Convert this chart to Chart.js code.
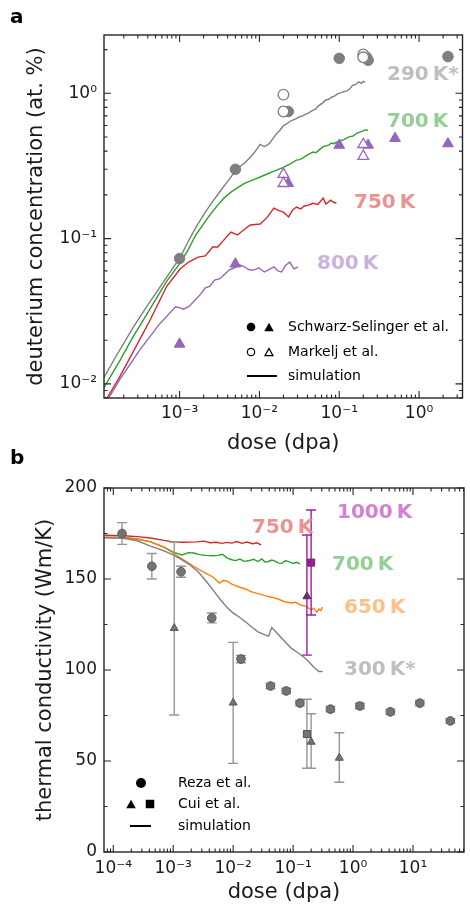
<!DOCTYPE html>
<html>
<head>
<meta charset="utf-8">
<script src="https://cdn.jsdelivr.net/npm/chart.js@4.4.1/dist/chart.umd.min.js"></script>
<style>
  body { margin: 0; background: #fff; width: 470px; height: 905px; position: relative; overflow: hidden; }
  canvas { position: absolute; left: 0; }
  #chartA { top: 0; }
  #chartB { top: 460px; }
  .panel { position: absolute; left: 10px; font: bold 20px "DejaVu Sans"; line-height: 20px; color: #000; }
</style>
</head>
<body>
<canvas id="chartA" width="470" height="460"></canvas>
<canvas id="chartB" width="470" height="445"></canvas>
<div class="panel" style="top:6px">a</div>
<div class="panel" style="top:447px">b</div>
<script>
const FONT = '"DejaVu Sans"'
Chart.defaults.font.family = FONT
Chart.defaults.color = '#1a1a1a'

// ---------- panel a : deuterium concentration (at. %) vs dose (dpa) ----------
// simulation curves
const aDose290 = [1.1e-4, 1.6e-4, 2.6e-4, 4.0e-4, 6.7e-4, 1.02e-3, 1.3e-3, 1.58e-3, 2.1e-3, 2.5e-3, 3.2e-3, 4.0e-3, 5.3e-3, 6.5e-3, 8.1e-3, 9.2e-3, 0.0102, 0.0115, 0.0125, 0.0135, 0.016, 0.018, 0.02, 0.022, 0.024, 0.027, 0.029, 0.032, 0.035, 0.038, 0.041, 0.047, 0.051, 0.055, 0.062, 0.068, 0.074, 0.08, 0.088, 0.095, 0.11, 0.125, 0.135, 0.146, 0.16, 0.175, 0.19, 0.2, 0.211]
const aConc290 = [0.0108, 0.0155, 0.0243, 0.035, 0.053, 0.0746, 0.097, 0.118, 0.152, 0.175, 0.211, 0.248, 0.305, 0.33, 0.375, 0.41, 0.445, 0.43, 0.44, 0.455, 0.52, 0.555, 0.60, 0.615, 0.64, 0.66, 0.67, 0.69, 0.70, 0.72, 0.73, 0.765, 0.78, 0.82, 0.86, 0.90, 0.91, 0.94, 0.96, 0.99, 1.02, 1.04, 1.07, 1.13, 1.15, 1.2, 1.17, 1.21, 1.19]

const aDose700 = [1.1e-4, 1.8e-4, 2.6e-4, 4.0e-4, 6.9e-4, 1.02e-3, 1.3e-3, 1.58e-3, 2.3e-3, 3.0e-3, 3.6e-3, 4.4e-3, 5.4e-3, 6.5e-3, 8.5e-3, 0.0115, 0.015, 0.02, 0.022, 0.024, 0.029, 0.032, 0.035, 0.041, 0.047, 0.051, 0.055, 0.063, 0.074, 0.08, 0.085, 0.1, 0.115, 0.13, 0.15, 0.17, 0.19, 0.21, 0.23]
const aConc700 = [0.0092, 0.0146, 0.021, 0.031, 0.051, 0.068, 0.085, 0.105, 0.141, 0.17, 0.19, 0.209, 0.225, 0.24, 0.255, 0.273, 0.29, 0.309, 0.318, 0.325, 0.347, 0.35, 0.36, 0.38, 0.394, 0.39, 0.405, 0.43, 0.44, 0.455, 0.45, 0.47, 0.48, 0.50, 0.51, 0.535, 0.545, 0.56, 0.557]

const aDose750 = [1.13e-4, 1.7e-4, 2.57e-4, 4.2e-4, 6.9e-4, 1.02e-3, 1.3e-3, 1.71e-3, 2.1e-3, 2.6e-3, 3.0e-3, 3.6e-3, 4.4e-3, 5.3e-3, 6.4e-3, 7.7e-3, 0.0102, 0.0125, 0.0152, 0.0175, 0.020, 0.0232, 0.026, 0.029, 0.033, 0.036, 0.041, 0.047, 0.054, 0.063, 0.068, 0.078, 0.085, 0.092]
const aConc750 = [0.0074, 0.0107, 0.0163, 0.027, 0.047, 0.062, 0.069, 0.0746, 0.076, 0.0875, 0.0875, 0.098, 0.111, 0.106, 0.115, 0.124, 0.126, 0.14, 0.162, 0.156, 0.152, 0.141, 0.157, 0.165, 0.16, 0.167, 0.17, 0.175, 0.172, 0.19, 0.173, 0.184, 0.178, 0.176]

const aDose800 = [1.13e-4, 1.26e-4, 1.78e-4, 3.16e-4, 5.5e-4, 8.9e-4, 1.0e-3, 1.12e-3, 1.3e-3, 1.58e-3, 1.8e-3, 2.09e-3, 2.4e-3, 2.75e-3, 3.2e-3, 3.7e-3, 4.2e-3, 4.9e-3, 5.6e-3, 6.5e-3, 7.4e-3, 8.5e-3, 9.8e-3, 0.0115, 0.013, 0.0152, 0.017, 0.019, 0.021, 0.024, 0.027, 0.0305]
const aConc800 = [0.0071, 0.0078, 0.0107, 0.0171, 0.0255, 0.0339, 0.0335, 0.0327, 0.034, 0.038, 0.041, 0.0457, 0.047, 0.0519, 0.053, 0.057, 0.061, 0.063, 0.066, 0.064, 0.061, 0.0607, 0.063, 0.0589, 0.061, 0.064, 0.06, 0.0589, 0.065, 0.069, 0.062, 0.064]

// experiments
const ssDose290 = [1e-3, 5e-3, 0.023, 0.1, 0.22, 0.23, 2.3]
const ssConc290 = [0.073, 0.3, 0.75, 1.74, 1.77, 1.69, 1.79]
const mkDose290 = [0.02, 0.02, 0.2, 0.2]
const mkConc290 = [0.98, 0.75, 1.85, 1.77]
const ssDoseHot = [1e-3, 5e-3, 0.023, 0.1, 0.23, 0.5, 2.3]
const ssConcHot = [0.0188, 0.067, 0.24, 0.44, 0.44, 0.49, 0.45]
const mkDoseHot = [0.02, 0.02, 0.2, 0.2]
const mkConcHot = [0.277, 0.24, 0.445, 0.369]

const aXLabels = [1e-3, 1e-2, 1e-1, 1]
const aYLabels = [1e-2, 1e-1, 1]

// ---------- panel b : thermal conductivity (Wm/K) vs dose (dpa) ----------
const bDose750 = [7.2e-5, 1.5e-4, 2.5e-4, 4.2e-4, 7e-4, 1e-3, 1.5e-3, 2.45e-3, 3.3e-3, 4.1e-3, 5.2e-3, 6.5e-3, 7.8e-3, 9.5e-3, 0.0115, 0.014, 0.017, 0.021, 0.025, 0.029]
const bTC750 = [174.0, 173.8, 173.3, 172.5, 171.2, 170.3, 170.2, 170.4, 170.8, 169.9, 170.2, 169.6, 170.1, 169.7, 170.6, 169.6, 170.3, 169.4, 169.9, 168.7]

const bDose700 = [7.2e-5, 1.5e-4, 2.5e-4, 4.2e-4, 7e-4, 1e-3, 1.2e-3, 1.4e-3, 1.8e-3, 2.2e-3, 2.75e-3, 3.5e-3, 4.6e-3, 5.6e-3, 6.6e-3, 8e-3, 9.5e-3, 0.011, 0.013, 0.015, 0.018, 0.022, 0.026, 0.03, 0.034, 0.038, 0.044, 0.05, 0.057, 0.065, 0.074, 0.083, 0.1, 0.115, 0.13]
const bTC700 = [172.8, 172.8, 172.0, 170.4, 167.5, 164.8, 163.9, 163.2, 164.5, 164.3, 163.4, 163.0, 162.8, 163.0, 163.6, 161.5, 160.6, 160.1, 161.0, 159.7, 160.0, 160.8, 159.6, 161.0, 159.3, 159.5, 160.4, 159.8, 158.7, 158.6, 160.0, 159.7, 158.5, 159.2, 158.3]

const bDose650 = [7.2e-5, 1.5e-4, 2.5e-4, 4.2e-4, 7e-4, 1e-3, 1.3e-3, 1.7e-3, 2.2e-3, 2.75e-3, 3.6e-3, 4.6e-3, 5.9e-3, 6.8e-3, 7.8e-3, 0.0095, 0.0126, 0.016, 0.0204, 0.026, 0.0347, 0.044, 0.056, 0.072, 0.093, 0.11, 0.135, 0.165, 0.2, 0.22, 0.25, 0.27, 0.29, 0.31]
const bTC650 = [172.8, 172.8, 172.0, 170.4, 167.5, 164.3, 161.8, 159.3, 157.0, 155.0, 153.0, 151.1, 147.8, 149.2, 148.9, 147.2, 145.6, 144.5, 142.9, 142.0, 140.7, 140.0, 139.0, 137.5, 136.8, 137.2, 135.7, 135.0, 133.0, 134.0, 131.8, 133.5, 132.6, 134.6]

const bDose300 = [7.2e-5, 1.5e-4, 2.5e-4, 4.2e-4, 7e-4, 1e-3, 1.4e-3, 1.9e-3, 2.5e-3, 3.1e-3, 3.8e-3, 4.6e-3, 6e-3, 7.8e-3, 0.0098, 0.0126, 0.016, 0.0204, 0.026, 0.0347, 0.039, 0.044, 0.05, 0.062, 0.076, 0.093, 0.12, 0.158, 0.19, 0.23, 0.27, 0.31]
const bTC300 = [172.8, 172.4, 171.0, 168.1, 165.5, 163.2, 160.5, 157.7, 154.5, 151.1, 147.5, 144.0, 139.0, 134.6, 131.5, 129.1, 126.5, 123.6, 121.0, 119.2, 118.6, 123.3, 121.4, 118.1, 115.0, 112.0, 109.5, 106.6, 104.0, 101.0, 99.2, 99.2]

// Reza et al. (symmetric errors)
const rezaDose = [1.4e-4, 4.4e-4, 1.35e-3, 4.4e-3, 0.0135, 0.042, 0.077, 0.13, 0.42, 1.3, 4.2, 13, 42]
const rezaTC = [175, 157, 154, 128.6, 106, 91.2, 88.5, 81.8, 78.5, 80.2, 77, 81.8, 72]
const rezaErr = [6, 7, 3, 2.7, 2, 1.5, 1.5, 1.5, 1.5, 1.5, 1.5, 1.5, 1.2]

// Cui et al. (room temperature, grey)
const cuiTriDose = [1.04e-3, 0.01, 0.2, 0.59]
const cuiTriTC = [123, 82, 60.5, 51.7]
const cuiTriLo = [75.3, 48.7, 46, 38.3]
const cuiTriHi = [170.3, 115.2, 76, 65.5]
const cuiSqDose = [0.17]
const cuiSqTC = [64.8]
const cuiSqLo = [46]
const cuiSqHi = [83.9]

// Cui et al. 1000 K (purple)
const hotTriDose = [0.17]
const hotTriTC = [140.4]
const hotTriLo = [108.2]
const hotTriHi = [174.2]
const hotSqDose = [0.2]
const hotSqTC = [159]
const hotSqLo = [130.2]
const hotSqHi = [187.9]

const bXLabels = [1e-4, 1e-3, 1e-2, 1e-1, 1, 10]
const bYLabels = [0, 50, 100, 150, 200]

// ---------- helpers ----------
const SUP = {'-': '\u207B', '0': '\u2070', '1': '\u00B9', '2': '\u00B2', '3': '\u00B3', '4': '\u2074'}

function isPow10(v) {
    const l = Math.log10(v)
    return Math.abs(l - Math.round(l)) < 1e-9
}

function pow10Label(v) {
    const e = Math.round(Math.log10(v))
    return '10' + String(e).split('').map(c => SUP[c]).join('')
}

function logTicks(lo, hi) {
    let out = []
    for (let e = Math.floor(Math.log10(lo)); e <= Math.ceil(Math.log10(hi)); e++) {
        for (let m = 1; m < 10; m++) {
            const v = Number((m * Math.pow(10, e)).toPrecision(6))
            if (v >= lo && v <= hi) out.push({value: v})
        }
    }
    return out
}

function pts(xs, ys) {
    return xs.map((x, i) => ({x: x, y: ys[i]}))
}

function curve(xs, ys, color) {
    return {data: pts(xs, ys), showLine: true, borderColor: color, borderWidth: 1.4,
            pointRadius: 0, tension: 0, fill: false}
}

function marks(xs, ys, style, r, fill, edge, bw) {
    return {data: pts(xs, ys), showLine: false, pointStyle: style, pointRadius: r,
            pointBackgroundColor: fill, pointBorderColor: edge, pointBorderWidth: bw}
}

// per-panel decorations (labels, legend, error bars), drawn by the plugin below
const deco = {}

function drawFrame(chart, majorTest) {
    const {ctx, chartArea: a, scales} = chart
    ctx.save()
    ctx.strokeStyle = '#262626'
    ctx.lineWidth = 1.1
    ctx.beginPath()
    for (const t of scales.x.ticks) {
        const px = scales.x.getPixelForValue(t.value)
        if (px < a.left - 0.5 || px > a.right + 0.5) continue
        const len = isPow10(t.value) ? 7 : 3.5
        ctx.moveTo(px, a.bottom); ctx.lineTo(px, a.bottom - len)
        ctx.moveTo(px, a.top); ctx.lineTo(px, a.top + len)
    }
    for (const t of scales.y.ticks) {
        const py = scales.y.getPixelForValue(t.value)
        if (py < a.top - 0.5 || py > a.bottom + 0.5) continue
        const len = majorTest(t.value) ? 7 : 3.5
        ctx.moveTo(a.left, py); ctx.lineTo(a.left + len, py)
        ctx.moveTo(a.right, py); ctx.lineTo(a.right - len, py)
    }
    ctx.stroke()
    ctx.lineWidth = 1.4
    ctx.strokeRect(a.left, a.top, a.right - a.left, a.bottom - a.top)
    ctx.restore()
}

function triPath(ctx, x, y, w, h) {
    ctx.beginPath()
    ctx.moveTo(x, y - h / 2)
    ctx.lineTo(x - w / 2, y + h / 2)
    ctx.lineTo(x + w / 2, y + h / 2)
    ctx.closePath()
}

function drawLegend(ctx, items) {
    ctx.save()
    ctx.fillStyle = '#000'
    ctx.strokeStyle = '#000'
    for (const it of items) {
        for (const s of it.symbols) {
            ctx.lineWidth = 1.2
            if (s.kind === 'circle' || s.kind === 'ocircle') {
                ctx.beginPath()
                ctx.arc(s.x, it.y, s.r, 0, Math.PI * 2)
                if (s.kind === 'circle') ctx.fill(); else ctx.stroke()
            } else if (s.kind === 'tri' || s.kind === 'otri') {
                triPath(ctx, s.x, it.y, s.w, s.w * 0.9)
                if (s.kind === 'tri') ctx.fill(); else ctx.stroke()
            } else if (s.kind === 'square') {
                ctx.fillRect(s.x - s.w / 2, it.y - s.w / 2, s.w, s.w)
            } else if (s.kind === 'line') {
                ctx.lineWidth = 2
                ctx.beginPath()
                ctx.moveTo(s.x, it.y); ctx.lineTo(s.x2, it.y)
                ctx.stroke()
            }
        }
        ctx.font = '14px ' + FONT
        ctx.textBaseline = 'middle'
        ctx.fillText(it.text, it.tx, it.y)
    }
    ctx.restore()
}

function drawBars(chart, bars) {
    const {ctx, scales: {x, y}} = chart
    ctx.save()
    ctx.lineWidth = 1.4
    for (const b of bars) {
        ctx.strokeStyle = b.color
        ctx.beginPath()
        b.xs.forEach((xv, i) => {
            const px = x.getPixelForValue(xv)
            const p1 = y.getPixelForValue(b.lo[i])
            const p2 = y.getPixelForValue(b.hi[i])
            ctx.moveTo(px, p1); ctx.lineTo(px, p2)
            ctx.moveTo(px - 5, p1); ctx.lineTo(px + 5, p1)
            ctx.moveTo(px - 5, p2); ctx.lineTo(px + 5, p2)
        })
        ctx.stroke()
    }
    ctx.restore()
}

const decoPlugin = {
    id: 'decoPlugin',
    beforeDatasetDraw(chart, args) {
        const d = deco[chart.canvas.id]
        if (d.bars && args.index === d.barsBefore) drawBars(chart, d.bars)
    },
    afterDraw(chart) {
        const d = deco[chart.canvas.id]
        const ctx = chart.ctx
        drawFrame(chart, d.majorY)
        ctx.save()
        ctx.font = 'bold 20px ' + FONT
        ctx.textBaseline = 'middle'
        for (const l of d.labels) {
            ctx.fillStyle = l.color
            ctx.fillText(l.text, l.x, l.y)
        }
        ctx.restore()
        drawLegend(ctx, d.legend)
    }
}

function logAxis(min, max, labels, titleText, extra) {
    return Object.assign({
        type: 'logarithmic', min: min, max: max,
        grid: {display: false, drawTicks: false}, border: {display: false},
        afterBuildTicks: s => { s.ticks = logTicks(min, max) },
        ticks: {autoSkip: false, maxRotation: 0, minRotation: 0, color: '#1a1a1a',
                font: {size: 17, family: FONT},
                callback: v => labels.some(l => Math.abs(l - v) / l < 1e-6) ? pow10Label(v) : ''},
        title: {display: true, text: titleText, color: '#1a1a1a', font: {size: 21, family: FONT}}
    }, extra)
}

// ---------- panel a ----------
const GREY = '#7f7f7f', PURPLE = '#9467bd'

deco.chartA = {
    majorY: isPow10,
    labels: [
        {text: '290\u2009K*', x: 387, y: 75, color: '#bfbfbf'},
        {text: '700\u2009K', x: 387, y: 122, color: '#95cf95'},
        {text: '750\u2009K', x: 354, y: 203, color: '#ea9393'},
        {text: '800\u2009K', x: 317, y: 264, color: '#c9b3de'}
    ],
    legend: [
        {y: 327, tx: 288, text: 'Schwarz-Selinger et al.',
         symbols: [{kind: 'circle', x: 251, r: 4.3}, {kind: 'tri', x: 269, w: 9.5}]},
        {y: 352, tx: 288, text: 'Markelj et al.',
         symbols: [{kind: 'ocircle', x: 251, r: 3.7}, {kind: 'otri', x: 269, w: 8}]},
        {y: 376, tx: 288, text: 'simulation',
         symbols: [{kind: 'line', x: 247, x2: 277}]}
    ]
}

const xA = logAxis(1.13e-4, 3.5, aXLabels, 'dose (dpa)', {position: 'bottom'})
xA.ticks.padding = 5
xA.title.padding = {top: 0, bottom: 3.4}
xA.afterFit = s => { s.height = 62 }

const yA = logAxis(0.008, 2.52, aYLabels, 'deuterium concentration (at. %)', {position: 'left'})
yA.ticks.padding = 7
yA.title.padding = {top: 24, bottom: 0}
yA.afterFit = s => { s.width = 104 }

new Chart(document.getElementById('chartA'), {
    type: 'scatter',
    data: {
        datasets: [
            marks(mkDose290, mkConc290, 'circle', 5.3, '#ffffff', GREY, 1.3),
            marks(ssDose290, ssConc290, 'circle', 5.3, GREY, GREY, 1),
            marks(mkDoseHot, mkConcHot, 'triangle', 6.2, '#ffffff', PURPLE, 1.3),
            marks(ssDoseHot, ssConcHot, 'triangle', 6.2, PURPLE, PURPLE, 1),
            curve(aDose800, aConc800, PURPLE),
            curve(aDose750, aConc750, '#d62728'),
            curve(aDose700, aConc700, '#2ca02c'),
            curve(aDose290, aConc290, GREY)
        ]
    },
    options: {
        responsive: false, animation: false, devicePixelRatio: 1, events: [],
        layout: {padding: {top: 35, right: 1, left: 0, bottom: 0}},
        plugins: {legend: {display: false}, tooltip: {enabled: false}},
        scales: {x: xA, y: yA}
    },
    plugins: [decoPlugin]
})

// ---------- panel b ----------
const ERRGREY = '#969696', MARKGREY = '#747474', EDGEGREY = '#555555'
const MAGENTA = '#a01ea0'

deco.chartB = {
    majorY: v => v % 50 === 0,
    barsBefore: 4,
    bars: [
        {xs: rezaDose, lo: rezaTC.map((v, i) => v - rezaErr[i]), hi: rezaTC.map((v, i) => v + rezaErr[i]), color: ERRGREY},
        {xs: cuiTriDose, lo: cuiTriLo, hi: cuiTriHi, color: ERRGREY},
        {xs: cuiSqDose, lo: cuiSqLo, hi: cuiSqHi, color: ERRGREY},
        {xs: hotTriDose, lo: hotTriLo, hi: hotTriHi, color: MAGENTA},
        {xs: hotSqDose, lo: hotSqLo, hi: hotSqHi, color: MAGENTA}
    ],
    labels: [
        {text: '1000\u2009K', x: 337, y: 513 - 460, color: '#d480d3'},
        {text: '750\u2009K', x: 252, y: 528 - 460, color: '#ea9393'},
        {text: '700\u2009K', x: 332, y: 565 - 460, color: '#95cf95'},
        {text: '650\u2009K', x: 344, y: 608 - 460, color: '#ffbf86'},
        {text: '300\u2009K*', x: 344, y: 670 - 460, color: '#bfbfbf'}
    ],
    legend: [
        {y: 783 - 460, tx: 178, text: 'Reza et al.',
         symbols: [{kind: 'circle', x: 141, r: 5}]},
        {y: 804 - 460, tx: 178, text: 'Cui et al.',
         symbols: [{kind: 'tri', x: 131, w: 9.5}, {kind: 'square', x: 150, w: 8.5}]},
        {y: 826 - 460, tx: 178, text: 'simulation',
         symbols: [{kind: 'line', x: 130, x2: 151}]}
    ]
}

const xB = logAxis(7.2e-5, 71, bXLabels, 'dose (dpa)', {position: 'bottom'})
xB.ticks.padding = 6
xB.title.padding = {top: 0, bottom: 0}
xB.afterFit = s => { s.height = 53 }

const yB = {
    type: 'linear', position: 'left', min: 0, max: 200,
    grid: {display: false, drawTicks: false}, border: {display: false},
    afterBuildTicks: s => { s.ticks = [0, 25, 50, 75, 100, 125, 150, 175, 200].map(v => ({value: v})) },
    afterFit: s => { s.width = 104 },
    ticks: {autoSkip: false, padding: 7, color: '#1a1a1a', font: {size: 17, family: FONT},
            callback: v => bYLabels.includes(v) ? String(v) : ''},
    title: {display: true, text: 'thermal conductivity (Wm/K)', color: '#1a1a1a',
            font: {size: 21, family: FONT}, padding: {top: 33, bottom: 0}}
}

new Chart(document.getElementById('chartB'), {
    type: 'scatter',
    data: {
        datasets: [
            marks(hotSqDose, hotSqTC, 'rect', 5, '#9b1b9b', '#6a2a6a', 1),
            marks(hotTriDose, hotTriTC, 'triangle', 4.6, '#6e2f7a', '#5a2a64', 1),
            marks(cuiSqDose, cuiSqTC, 'rect', 5, MARKGREY, EDGEGREY, 1),
            marks(cuiTriDose, cuiTriTC, 'triangle', 4.6, MARKGREY, EDGEGREY, 1),
            marks(rezaDose, rezaTC, 'circle', 4.3, MARKGREY, EDGEGREY, 1),
            curve(bDose300, bTC300, GREY),
            curve(bDose650, bTC650, '#ff7f0e'),
            curve(bDose700, bTC700, '#2ca02c'),
            curve(bDose750, bTC750, '#d62728')
        ]
    },
    options: {
        responsive: false, animation: false, devicePixelRatio: 1, events: [],
        layout: {padding: {top: 28, right: 1, left: 0, bottom: 0}},
        plugins: {legend: {display: false}, tooltip: {enabled: false}},
        scales: {x: xB, y: yB}
    },
    plugins: [decoPlugin]
})
</script>
</body>
</html>
